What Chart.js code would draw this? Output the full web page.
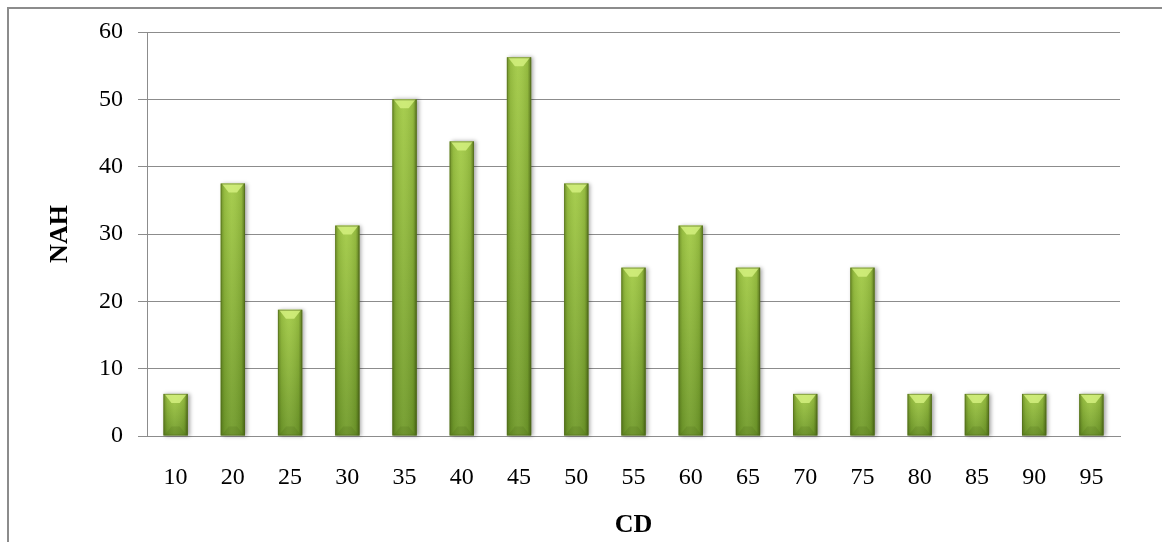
<!DOCTYPE html>
<html>
<head>
<meta charset="utf-8">
<script src="https://cdn.jsdelivr.net/npm/chart.js@4/dist/chart.umd.min.js"></script>
<style>
  html, body { margin: 0; padding: 0; background: #fff; overflow: hidden; }
  #frame { position: absolute; left: 7px; top: 7px; width: 3000px; height: 3000px;
           border-left: 2px solid #8c8c8c; border-top: 2px solid #8c8c8c; }
  #c { position: absolute; left: 0; top: 0; }
</style>
</head>
<body>
<div id="frame"></div>
<canvas id="c" width="1162" height="542"></canvas>
<script>
const categories = ['10','20','25','30','35','40','45','50','55','60','65','70','75','80','85','90','95'];
const nahValues = [6.25, 37.5, 18.75, 31.25, 50, 43.75, 56.25, 37.5, 25, 31.25, 25, 6.25, 25, 6.25, 6.25, 6.25, 6.25];
const yTicks = [0, 10, 20, 30, 40, 50, 60];
const xTitle = 'CD';
const yTitle = 'NAH';

const bevelBars = {
  id: 'bevelBars',
  afterDatasetsDraw(chart) {
    const ctx = chart.ctx;
    const meta = chart.getDatasetMeta(0);
    meta.data.forEach(el => {
      const p = el.getProps(['x', 'y', 'base', 'width'], true);
      const w = p.width, l = p.x - w / 2, r = p.x + w / 2, t = p.y, b = p.base, h = b - t;
      ctx.save();
      ctx.shadowColor = 'rgba(0,0,0,0.35)';
      ctx.shadowBlur = 4;
      ctx.shadowOffsetX = 2;
      ctx.shadowOffsetY = 0;
      const vg = ctx.createLinearGradient(0, t, 0, b);
      vg.addColorStop(0, '#a2ca48');
      vg.addColorStop(1, '#709a2c');
      ctx.fillStyle = vg;
      ctx.fillRect(l, t, w, h);
      ctx.restore();
      ctx.save();
      const hg = ctx.createLinearGradient(l, 0, r, 0);
      hg.addColorStop(0, 'rgba(40,60,0,0.40)');
      hg.addColorStop(0.15, 'rgba(40,60,0,0.10)');
      hg.addColorStop(0.45, 'rgba(255,255,200,0.06)');
      hg.addColorStop(0.85, 'rgba(40,60,0,0.12)');
      hg.addColorStop(1, 'rgba(30,45,0,0.55)');
      ctx.fillStyle = hg;
      ctx.fillRect(l, t, w, h);
      const bh = Math.min(9, h / 2);
      ctx.beginPath();
      ctx.moveTo(l + 1, t);
      ctx.lineTo(r - 1, t);
      ctx.lineTo(r - w * 0.33, t + bh);
      ctx.lineTo(l + w * 0.33, t + bh);
      ctx.closePath();
      ctx.fillStyle = 'rgba(215,242,130,0.8)';
      ctx.fill();
      ctx.beginPath();
      ctx.moveTo(l + 1, b);
      ctx.lineTo(r - 1, b);
      ctx.lineTo(r - w * 0.33, b - bh);
      ctx.lineTo(l + w * 0.33, b - bh);
      ctx.closePath();
      ctx.fillStyle = 'rgba(60,85,15,0.15)';
      ctx.fill();
      ctx.strokeStyle = 'rgba(80,105,25,0.55)';
      ctx.lineWidth = 1;
      ctx.strokeRect(l + 0.5, t + 0.5, w - 1, h - 1);
      ctx.restore();
    });
  }
};

new Chart(document.getElementById('c'), {
  type: 'bar',
  data: {
    labels: categories,
    datasets: [{
      label: yTitle,
      data: nahValues,
      backgroundColor: 'rgba(0,0,0,0)',
      borderWidth: 0,
      barPercentage: 0.85,
      categoryPercentage: 0.5
    }]
  },
  options: {
    responsive: false,
    animation: false,
    events: [],
    layout: { padding: { top: 32, right: 42, bottom: 0, left: 0 } },
    plugins: { legend: { display: false }, tooltip: { enabled: false } },
    scales: {
      x: {
        grid: { display: false, drawTicks: false },
        border: { display: true, color: '#8c8c8c', width: 1 },
        ticks: {
          color: '#000', autoSkip: false, maxRotation: 0, padding: 27,
          font: { family: '"Liberation Serif", "Times New Roman", serif', size: 24 }
        },
        title: {
          display: true, text: xTitle, color: '#000',
          padding: { top: 0, bottom: 1 },
          font: { family: '"Liberation Serif", "Times New Roman", serif', size: 26, weight: 'bold' }
        },
        afterFit(s) { s.height = 106; }
      },
      y: {
        min: 0, max: 60,
        afterBuildTicks(s) { s.ticks = yTicks.map(v => ({ value: v })); },
        grid: { color: '#8c8c8c', lineWidth: 1, tickLength: 9, drawTicks: true },
        border: { display: true, color: '#8c8c8c', width: 1 },
        ticks: {
          color: '#000', padding: 15,
          font: { family: '"Liberation Serif", "Times New Roman", serif', size: 24 }
        },
        title: {
          display: true, text: yTitle, color: '#000',
          padding: { top: 45, bottom: 0 },
          font: { family: '"Liberation Serif", "Times New Roman", serif', size: 26, weight: 'bold' }
        },
        afterFit(s) { s.width = 147; }
      }
    }
  },
  plugins: [bevelBars]
});
</script>
</body>
</html>
